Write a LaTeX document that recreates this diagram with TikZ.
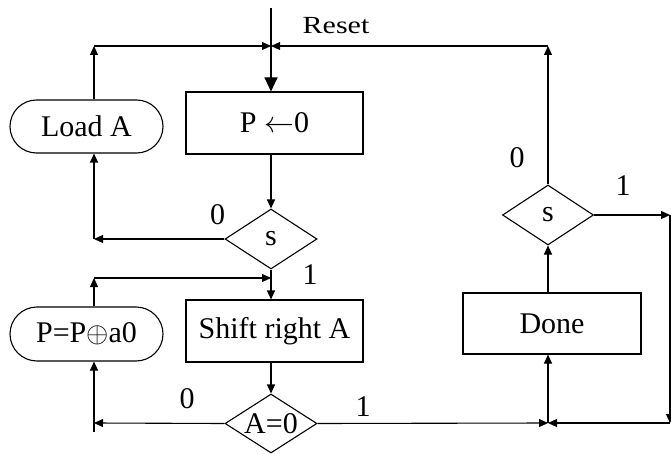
\documentclass[tikz,border=0pt]{standalone}
\usepackage{fontspec}
\usepackage{graphicx}
\setmainfont{Liberation Serif}
\usetikzlibrary{shapes.geometric,shapes.misc,arrows.meta}
\begin{document}
\begin{tikzpicture}[x=1pt,y=-1pt,line width=1.1pt,
  txt/.style={font=\fontsize{30}{36}\selectfont,inner sep=0pt},
  box/.style={draw,rectangle,txt},
  rbox/.style={draw,rounded rectangle,txt},
  dia/.style={draw,diamond,inner sep=0pt,aspect=1.53},
  arr/.style={-{Triangle[length=9pt,width=8pt]}},
  arrbig/.style={-{Triangle[length=14pt,width=13pt]}}]
\useasboundingbox (0,0) rectangle (671,454);
% coordinates
\coordinate (top) at (271,8);
\coordinate (J1) at (271,46);
\coordinate (cTL) at (94,46);
\coordinate (cTR) at (548,46);
\coordinate (cL1) at (94,239);
\coordinate (cL2) at (94,278);
\coordinate (J2) at (271,278);
\coordinate (cL3) at (94,423);
\coordinate (cL4) at (94,432);
\coordinate (J3) at (548,423);
\coordinate (cR1) at (670,215);
\coordinate (cR2) at (670,423);
% nodes
\node[box,minimum width=177pt,minimum height=62pt] (P) at (274.5,123) {P \scalebox{1.2}{$\leftarrow$}0};
\node[rbox,minimum width=153pt,minimum height=53pt] (LoadA) at (86.5,126.5) {Load A};
\node[dia,minimum width=92pt,minimum height=60pt,label={[txt]center:s}] (s1) at (271,239) {};
\node[rbox,minimum width=153pt,minimum height=54pt] (PX) at (86.5,334) {P=P\scalebox{1.15}{$\oplus$}a0};
\node[box,minimum width=177pt,minimum height=62pt] (Shift) at (274.5,331) {Shift right A};
\node[dia,minimum width=92pt,minimum height=59pt,label={[txt]center:A=0}] (A0) at (271,423.5) {};
\node[box,minimum width=178pt,minimum height=61pt] (Done) at (552,323.5) {Done};
\node[dia,minimum width=91pt,minimum height=60pt,label={[txt]center:s}] (s2) at (548,215) {};
% labels
\node[txt] (reset) at (336,26) {\scalebox{1}[0.82]{Reset}};
\node[txt] (l0a) at (217.5,214.5) {0};
\node[txt] (l1a) at (310,275) {1};
\node[txt] (l0b) at (517,158) {0};
\node[txt] (l1b) at (623,186) {1};
\node[txt] (l0c) at (187,399) {0};
\node[txt] (l1c) at (363,407) {1};
% connectors
\draw[arrbig] (top) -- (top |- P.north);
\draw[arr] (cTL |- LoadA.north) -- (cTL);
\draw[arr] (cTL) -- (J1);
\draw[arr] (s2.north) -- (cTR);
\draw[arr] (cTR) -- (J1);
\draw[arr] (s1.north |- P.south) -- (s1.north);
\draw[arr] (s1.west) -- (cL1);
\draw[arr] (cL1) -- (cL1 |- LoadA.south);
\draw[arr] (s1.south) -- (s1.south |- Shift.north);
\draw[arr] (cL2 |- PX.north) -- (cL2);
\draw[arr] (cL2) -- (J2);
\draw[arr] (A0.north |- Shift.south) -- (A0.north);
\draw[arr] (A0.west) -- (cL3);
\draw[arr] (cL4) -- (cL4 |- PX.south);
\draw[arr] (A0.east) -- (J3);
\draw[arr] (s2.east) -- (cR1);
\draw[arr] (cR1) -- (cR2);
\draw[arr] (cR2) -- (J3);
\draw[arr] (J3) -- (J3 |- Done.south);
\draw[arr] (s2.south |- Done.north) -- (s2.south);
\end{tikzpicture}
\end{document}
